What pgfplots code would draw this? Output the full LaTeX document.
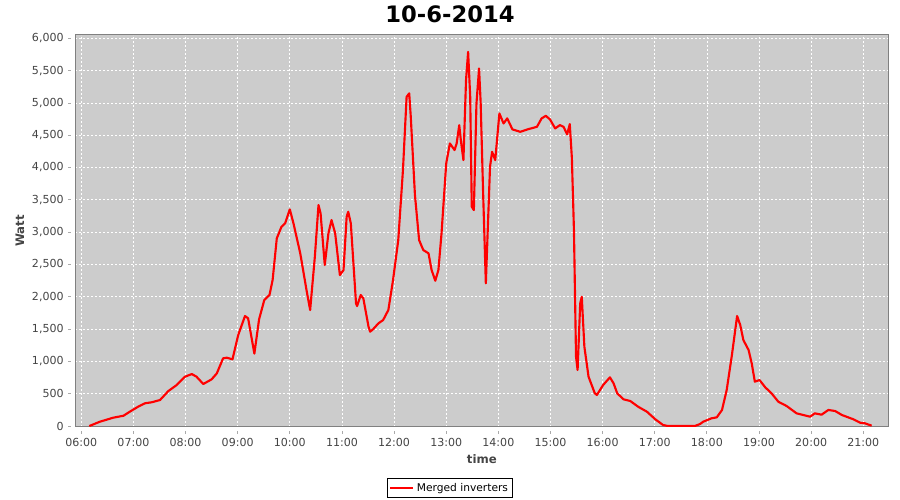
\documentclass[border=0pt]{standalone}
\usepackage{fontspec}
\setmainfont{DejaVu Sans}
\usepackage{pgfplots}
\pgfplotsset{compat=1.18}
\definecolor{plotbg}{RGB}{204,204,204}
\definecolor{tickgray}{RGB}{68,68,68}
\definecolor{axgray}{RGB}{170,170,170}
\definecolor{bordergray}{RGB}{128,128,128}
\begin{document}
\begin{tikzpicture}[x=1pt,y=1pt]
\path[use as bounding box] (0,0) rectangle (675,375);
\node[anchor=center, font=\bfseries\fontsize{17}{19}\selectfont, inner sep=0pt] at (337.5,364.5) {10-6-2014};
\begin{axis}[
  at={(56.475pt,54.75pt)}, anchor=south west,
  width=609.75pt, height=294pt, scale only axis,
  xmin=5.885, xmax=21.48, ymin=-15.5, ymax=6051,
  axis background/.style={fill=plotbg},
  axis line style={bordergray, line width=0.75pt},
  xtick={6,7,...,21},
  xticklabels={06:00,07:00,08:00,09:00,10:00,11:00,12:00,13:00,14:00,15:00,16:00,17:00,18:00,19:00,20:00,21:00},
  ytick={0,500,...,6000},
  /pgf/number format/assume math mode=true,
  /pgf/number format/.cd, 1000 sep={,}, fixed, precision=0, /pgfplots/.cd,
  tick align=outside, major tick length=2.2pt,
  tick style={axgray, line width=0.6pt},
  x tick style={yshift=-3pt},
  y tick style={xshift=-3pt},
  xtick pos=bottom, ytick pos=left,
  tick label style={font=\fontsize{8.3}{10}\selectfont, text=tickgray},
  yticklabel style={xshift=-3pt},
  xticklabel style={yshift=-3pt},
  grid=major,
  grid style={white, dash pattern=on 1.5pt off 1.5pt, line width=0.5pt},
  xlabel={time},
  xlabel style={at={(axis description cs:0.5,-0.0816)}, anchor=center, font=\bfseries\fontsize{8.8}{10}\selectfont, text=tickgray},
  ylabel={Watt},
  ylabel style={at={(axis description cs:-0.068,0.5)}, anchor=center, rotate=0, font=\bfseries\fontsize{8.8}{10}\selectfont, text=tickgray},
  legend style={at={(axis description cs:0.461,-0.156)}, anchor=center, draw=black, line width=0.6pt, font=\fontsize{8}{9}\selectfont, inner sep=1.5pt, row sep=0pt},
  legend image post style={line width=1.5pt},
  clip=true,
]
\draw[axgray, line width=0.6pt] ([xshift=-3pt]rel axis cs:0,0) -- ([xshift=-3pt]rel axis cs:0,1);
\draw[axgray, line width=0.6pt] ([yshift=-3pt]rel axis cs:0,0) -- ([yshift=-3pt]rel axis cs:1,0);
\addplot[red, line width=1.6pt, line join=round] coordinates {
(6.153,0) (6.36,67) (6.61,128) (6.81,159) (6.93,221) (7.09,299) (7.22,351) (7.35,367) (7.51,402) (7.67,541) (7.83,634) (7.99,763) (8.12,804) (8.21,763) (8.34,650) (8.50,722) (8.60,815) (8.72,1047) (8.79,1057) (8.90,1032) (9.01,1408) (9.14,1702) (9.20,1666) (9.32,1120) (9.41,1650) (9.51,1949) (9.61,2027) (9.67,2259) (9.75,2904) (9.84,3083) (9.91,3136) (10.00,3352) (10.07,3136) (10.20,2672) (10.32,2104) (10.39,1795) (10.48,2619) (10.55,3419) (10.59,3290) (10.67,2491) (10.74,2981) (10.80,3187) (10.87,2981) (10.96,2336) (11.03,2413) (11.09,3238) (11.12,3315) (11.17,3136) (11.27,1898) (11.29,1856) (11.36,2027) (11.41,1975) (11.51,1536) (11.54,1459) (11.60,1500) (11.70,1589) (11.79,1640) (11.89,1795) (11.98,2259) (12.08,2877) (12.17,3960) (12.24,5094) (12.29,5147) (12.32,4785) (12.40,3574) (12.48,2877) (12.56,2723) (12.66,2672) (12.72,2413) (12.79,2248) (12.85,2413) (12.91,2981) (13.00,4064) (13.07,4373) (13.16,4270) (13.20,4373) (13.25,4656) (13.28,4424) (13.33,4115) (13.38,5353) (13.42,5790) (13.46,5094) (13.49,3393) (13.53,3341) (13.58,4991) (13.63,5533) (13.66,5017) (13.71,3547) (13.76,2208) (13.84,4011) (13.88,4243) (13.94,4115) (14.02,4837) (14.10,4682) (14.17,4760) (14.27,4590) (14.42,4553) (14.58,4595) (14.74,4630) (14.83,4760) (14.91,4800) (14.99,4745) (15.09,4605) (15.18,4656) (15.25,4630) (15.32,4513) (15.37,4672) (15.41,4151) (15.45,3032) (15.49,1072) (15.52,866) (15.57,1898) (15.60,2000) (15.65,1227) (15.73,763) (15.85,506) (15.89,480) (16.01,634) (16.14,753) (16.21,661) (16.28,506) (16.40,413) (16.53,387) (16.68,299) (16.85,221) (17.01,104) (17.16,15) (17.25,0) (17.77,0) (17.87,31) (17.93,67) (18.09,119) (18.19,134) (18.29,248) (18.38,557) (18.48,1098) (18.58,1702) (18.64,1562) (18.70,1330) (18.80,1176) (18.86,970) (18.92,686) (19.01,711) (19.12,598) (19.24,506) (19.37,376) (19.53,309) (19.72,196) (19.98,144) (20.07,196) (20.20,175) (20.33,248) (20.46,232) (20.59,170) (20.81,104) (20.94,51) (21.03,42) (21.16,5)
};
\addlegendentry{Merged inverters}
\end{axis}
\end{tikzpicture}
\end{document}
